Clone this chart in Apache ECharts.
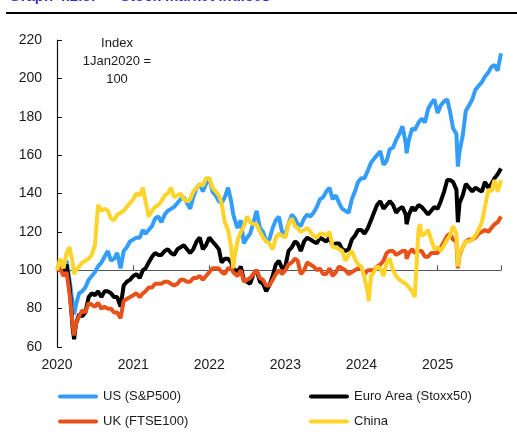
<!DOCTYPE html>
<html>
<head>
<meta charset="utf-8">
<script src="https://cdn.jsdelivr.net/npm/echarts@6/dist/echarts.min.js"></script>
<style>
  html, body { margin: 0; padding: 0; background: #fff; }
  #chart { width: 517px; height: 433px; }
</style>
</head>
<body>
<div id="chart"></div>
<script>
// dates (semi-monthly, plus a few dates of sharp moves)
const dates = [
  '2020-01-01','2020-01-16','2020-02-01','2020-02-16','2020-03-01','2020-03-16','2020-03-23','2020-04-01','2020-04-16','2020-05-01','2020-05-16','2020-06-01','2020-06-16','2020-07-01','2020-07-16','2020-08-01','2020-08-16','2020-09-01','2020-09-16','2020-10-01','2020-10-16','2020-11-01','2020-11-16','2020-12-01','2020-12-16',
  '2021-01-01','2021-01-16','2021-02-01','2021-02-16','2021-03-01','2021-03-16','2021-04-01','2021-04-16','2021-05-01','2021-05-16','2021-06-01','2021-06-16','2021-07-01','2021-07-16','2021-08-01','2021-08-16','2021-09-01','2021-09-16','2021-10-01','2021-10-16','2021-11-01','2021-11-16','2021-12-01','2021-12-16',
  '2022-01-01','2022-01-16','2022-02-01','2022-02-16','2022-03-01','2022-03-16','2022-04-01','2022-04-16','2022-04-26','2022-05-01','2022-05-16','2022-06-01','2022-06-16','2022-07-01','2022-07-16','2022-08-01','2022-08-16','2022-09-01','2022-09-16','2022-10-01','2022-10-16','2022-11-01','2022-11-16','2022-12-01','2022-12-16',
  '2023-01-01','2023-01-16','2023-02-01','2023-02-16','2023-03-01','2023-03-16','2023-04-01','2023-04-16','2023-05-01','2023-05-16','2023-06-01','2023-06-16','2023-07-01','2023-07-16','2023-08-01','2023-08-16','2023-09-01','2023-09-16','2023-10-01','2023-10-16','2023-11-01','2023-11-16','2023-12-01','2023-12-16',
  '2024-01-01','2024-01-16','2024-02-01','2024-02-05','2024-02-16','2024-03-01','2024-03-16','2024-04-01','2024-04-16','2024-05-01','2024-05-16','2024-06-01','2024-06-16','2024-07-01','2024-07-16','2024-08-01','2024-08-05','2024-08-16','2024-09-01','2024-09-13','2024-09-16','2024-10-01','2024-10-08','2024-10-16','2024-11-01','2024-11-16','2024-12-01','2024-12-16',
  '2025-01-01','2025-01-16','2025-02-01','2025-02-16','2025-03-01','2025-03-16','2025-04-01','2025-04-08','2025-04-16','2025-05-01','2025-05-16','2025-06-01','2025-06-16','2025-07-01','2025-07-16','2025-08-01','2025-08-16','2025-09-01','2025-09-16','2025-10-01','2025-10-16','2025-11-01'
];

const usValues = [
  100,102,101,105,95,83,77,82,88,89,91,95,97,99,102,104,107,110,105,106,109,101,110,112,115,
  116,117,117,121,119,121,123,127,128,125,129,131,132,133,135,137,138,135,132,138,143,145,141,145,
  148,141,139,136,135,138,143,136,129,128,122,126,114,117,119,125,131,122,120,115,116,122,126,128,120,
  119,124,129,127,124,123,127,129,128,130,133,137,138,141,143,137,139,135,132,131,130,137,141,146,
  148,148,152,153,156,158,160,162,155,157,163,164,168,171,175,166,161,168,174,173,174,177,178,179,177,184,187,189,
  182,186,188,189,183,174,171,154,162,170,183,186,189,194,196,198,201,203,206,207,204,213
];

const euroValues = [
  100,101,98,103,92,70,64,72,77,76,78,86,88,87,89,86,89,89,88,86,86,81,92,94,95,
  97,98,96,100,101,104,107,109,108,108,110,111,109,108,111,112,113,111,109,111,115,117,111,113,
  117,115,113,111,104,106,106,104,101,101,99,102,95,94,93,98,100,94,93,89,92,97,103,105,101,
  102,110,112,115,114,110,115,117,116,115,114,117,116,115,117,113,114,114,111,110,111,116,118,121,
  121,119,122,122,126,130,134,136,132,134,136,134,130,132,133,129,124,129,133,131,132,134,134,133,131,129,131,133,
  132,136,141,147,147,146,142,125,135,139,145,143,141,143,142,141,146,143,145,148,150,153
];

const ukValues = [
  100,101,97,99,88,72,66,72,76,79,78,83,82,81,83,80,81,80,80,78,78,75,84,85,86,
  87,88,86,88,89,91,91,93,93,93,94,94,93,92,93,95,95,94,94,96,96,97,95,97,
  99,101,101,101,99,98,101,101,99,99,97,100,94,95,96,98,100,96,95,92,92,95,98,100,98,
  100,103,104,106,105,98,100,104,103,102,100,101,98,98,101,97,99,102,101,100,98,99,100,101,
  101,98,100,99,100,100,102,103,105,109,110,110,108,109,110,110,106,109,111,109,109,110,109,110,107,107,109,109,
  109,112,115,118,119,116,115,101,108,112,115,116,116,117,119,120,121,120,122,124,125,128
];

const chinaValues = [
  100,106,101,109,112,104,98,100,102,104,105,106,108,113,134,131,132,131,127,126,129,130,131,133,135,
  137,140,139,143,136,128,131,133,134,136,139,140,143,138,139,140,137,136,137,141,143,145,144,148,
  148,143,141,139,135,125,121,112,101,106,115,120,123,128,125,124,124,120,117,115,114,111,117,119,118,
  117,124,127,123,122,120,121,122,120,118,117,119,119,118,120,112,112,111,110,105,108,110,106,103,
  102,96,88,84,97,99,102,101,97,104,106,100,97,95,94,93,92,91,89,86,87,121,124,118,119,121,116,111,
  112,110,113,116,118,123,119,102,109,112,115,115,116,118,121,125,133,142,141,147,141,147
];

const seriesNames = ['US (S&P500)', 'Euro Area (Stoxx50)', 'UK (FTSE100)', 'China'];
const seriesColors = ['#349DFA', '#000000', '#E8511A', '#FFD42A'];
const yMin = 60, yMax = 220, yStep = 20;
const baseLevel = 100;

const pairs = vals => dates.map((d, i) => [d, vals[i]]);

const chart = echarts.init(document.getElementById('chart'));

const gridTop = 40, gridBottom = 86;
const plotH = 433 - gridTop - gridBottom;
// pixel distance from bottom of the plot up to the 100 line
const baseOffset = plotH * (baseLevel - yMin) / (yMax - yMin);

// legend drawn as graphic: two columns, two rows
const legendCols = [58, 309];
const legendRows = [396.5, 421.5];
const legendSlots = [[0, 0], [1, 0], [0, 1], [1, 1]]; // [col, row] per series

const legendGraphics = [];
seriesNames.forEach((name, i) => {
  const [c, r] = legendSlots[i];
  legendGraphics.push({
    type: 'rect', x: legendCols[c], y: legendRows[r] - 2,
    shape: { x: 0, y: 0, width: 40, height: 4, r: 2 },
    style: { fill: seriesColors[i] }
  });
  legendGraphics.push({
    type: 'text', x: legendCols[c] + 45, y: legendRows[r],
    style: { text: name, fill: '#1a1a1a', font: '13px sans-serif', verticalAlign: 'middle' }
  });
});

const lineSeries = (name, vals, color) => ({
  name: name,
  type: 'line',
  xAxisIndex: 0,
  yAxisIndex: 0,
  symbol: 'none',
  data: pairs(vals),
  lineStyle: { color: color, width: 4 }
});

const option = {
  animation: false,
  grid: [
    { left: 57, right: 16, top: gridTop, bottom: gridBottom },
    // same width, bottom edge on the 100 line (carries the line and year ticks)
    { left: 57, right: 16, top: gridTop, bottom: gridBottom + baseOffset }
  ],
  graphic: [
    { type: 'rect', x: 6, y: 12, shape: { x: 0, y: 0, width: 511, height: 2 }, style: { fill: '#000000' } },
    { type: 'text', x: 9, y: -11,
      style: { text: 'Graph 4.2.3:', fill: '#3333CC', font: 'bold 15px sans-serif', verticalAlign: 'top' } },
    { type: 'text', x: 120, y: -11,
      style: { text: 'Stock market indices', fill: '#3333CC', font: 'bold 15px sans-serif', verticalAlign: 'top' } },
    { type: 'text', x: 117, y: 34,
      style: {
        text: 'Index\n1Jan2020 =\n100', fill: '#1a1a1a', font: '13px sans-serif',
        align: 'center', verticalAlign: 'top', lineHeight: 18
      } }
  ].concat(legendGraphics),
  xAxis: [
    {
      type: 'time', gridIndex: 0,
      min: '2020-01-01', max: '2025-11-01',
      axisLine: { show: false },
      axisTick: { show: false },
      splitLine: { show: false },
      axisLabel: { formatter: '{yyyy}', fontSize: 14, color: '#1a1a1a', margin: 11, showMaxLabel: false }
    },
    {
      type: 'time', gridIndex: 1,
      min: '2020-01-01', max: '2025-11-01',
      axisLine: { show: true, lineStyle: { color: '#555555', width: 1 } },
      axisTick: { show: true, inside: true, length: 5, lineStyle: { color: '#555555', width: 1 } },
      axisLabel: { show: false },
      splitLine: { show: false }
    }
  ],
  yAxis: [
    {
      type: 'value', gridIndex: 0, min: yMin, max: yMax, interval: yStep,
      axisLine: { show: true, lineStyle: { color: '#111111', width: 1.2 } },
      axisTick: { show: true, inside: true, length: 5, lineStyle: { color: '#111111' } },
      splitLine: { show: false },
      axisLabel: { fontSize: 14, color: '#1a1a1a', margin: 15 }
    },
    { type: 'value', gridIndex: 1, min: baseLevel, max: yMax, show: false }
  ],
  series: [
    lineSeries(seriesNames[0], usValues, seriesColors[0]),
    lineSeries(seriesNames[1], euroValues, seriesColors[1]),
    lineSeries(seriesNames[2], ukValues, seriesColors[2]),
    lineSeries(seriesNames[3], chinaValues, seriesColors[3]),
    // empty series so the axis on the 100 line is laid out
    { type: 'line', xAxisIndex: 1, yAxisIndex: 1, data: [], symbol: 'none', silent: true }
  ]
};

chart.setOption(option);
</script>
</body>
</html>
